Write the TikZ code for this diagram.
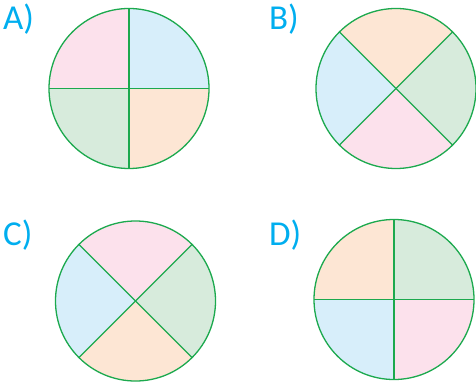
\documentclass[tikz,border=0pt]{standalone}
\usepackage{fontspec}
\setmainfont{Carlito}
\usepackage{xcolor}
\definecolor{LineGreen}{HTML}{1CA94E}
\definecolor{LabelBlue}{HTML}{00AEEF}
\definecolor{QPink}{HTML}{FCE1EC}
\definecolor{QBlue}{HTML}{D7EEFA}
\definecolor{QGreen}{HTML}{D7EBDC}
\definecolor{QPeach}{HTML}{FDE6D4}
\tikzset{
    pie/.style={circle, draw=LineGreen, line width=1.3pt, minimum size=160pt, inner sep=0pt, outer sep=0pt},
    cut/.style={draw=LineGreen, line width=1.3pt},
    lbl/.style={text=LabelBlue, font=\fontsize{35}{35}\selectfont, inner sep=0pt, anchor=base west}
}
% one filled quarter: colour, centre, start angle
\newcommand{\quarter}[3]{\fill[#1] (#2) -- ++(#3:80) arc[start angle=#3, end angle=#3+90, radius=80] -- cycle;}

\begin{document}
\begin{tikzpicture}[x=1pt, y=1pt]
    \useasboundingbox (0,0) rectangle (476,-382);

    % Option A (straight cuts)
    \coordinate (cA) at (129,-88.5);
    \quarter{QBlue}{cA}{0}
    \quarter{QPink}{cA}{90}
    \quarter{QGreen}{cA}{180}
    \quarter{QPeach}{cA}{270}
    \node[pie] (pieA) at (cA) {};
    \draw[cut] (pieA.north) -- (pieA.south);
    \draw[cut] (pieA.west) -- (pieA.east);
    \node[lbl] (lblA) at (3,-30) {A)};

    % Option B (diagonal cuts)
    \coordinate (cB) at (396,-88.5);
    \quarter{QGreen}{cB}{-45}
    \quarter{QPeach}{cB}{45}
    \quarter{QBlue}{cB}{135}
    \quarter{QPink}{cB}{225}
    \node[pie] (pieB) at (cB) {};
    \draw[cut] (pieB.45) -- (pieB.225);
    \draw[cut] (pieB.135) -- (pieB.315);
    \node[lbl] (lblB) at (269,-30) {B)};

    % Option C (diagonal cuts)
    \coordinate (cC) at (135.5,-301);
    \quarter{QGreen}{cC}{-45}
    \quarter{QPink}{cC}{45}
    \quarter{QBlue}{cC}{135}
    \quarter{QPeach}{cC}{225}
    \node[pie] (pieC) at (cC) {};
    \draw[cut] (pieC.45) -- (pieC.225);
    \draw[cut] (pieC.135) -- (pieC.315);
    \node[lbl] (lblC) at (3,-245) {C)};

    % Option D (straight cuts)
    \coordinate (cD) at (394,-299.5);
    \quarter{QGreen}{cD}{0}
    \quarter{QPeach}{cD}{90}
    \quarter{QBlue}{cD}{180}
    \quarter{QPink}{cD}{270}
    \node[pie] (pieD) at (cD) {};
    \draw[cut] (pieD.north) -- (pieD.south);
    \draw[cut] (pieD.west) -- (pieD.east);
    \node[lbl] (lblD) at (269,-245) {D)};
\end{tikzpicture}
\end{document}
